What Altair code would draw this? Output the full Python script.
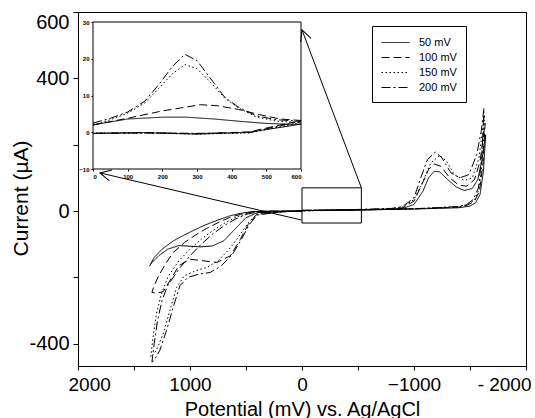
import math
import altair as alt
import pandas as pd

FONT = "Liberation Sans"
SERIES = ["50 mV", "100 mV", "150 mV", "200 mV"]
DASHES = [[1, 0], [8, 4], [1.5, 2.5], [9, 3, 2, 3]]

# ---------------- main cyclic voltammograms: potential (mV), current (uA)
E_50 = [0, -300, -600, -800, -900, -1000, -1080, -1130, -1180, -1230, -1300, -1380, -1450, -1520, -1570, -1610, -1640,
        -1620, -1590, -1550, -1500, -1400, -1200, -1000, -800, -500, -200, 0,
        200, 400, 500, 600, 700, 800, 900, 1000, 1100, 1200, 1280, 1340, 1360,
        1320, 1250, 1150, 1050, 950, 850, 750, 650, 550, 450, 300, 0]
I_50 = [2, 3, 4, 5, 8, 20, 60, 100, 120, 118, 95, 72, 62, 68, 95, 160, 230,
        120, 50, 25, 15, 10, 8, 6, 5, 3, 2, 1,
        -2, -5, -20, -55, -90, -105, -108, -106, -104, -115, -135, -155, -165,
        -140, -115, -90, -72, -55, -40, -27, -15, -7, -2, 0, 0]

E_100 = [0, -300, -600, -800, -900, -1000, -1070, -1130, -1180, -1240, -1320, -1400, -1470, -1540, -1590, -1635,
         -1615, -1585, -1540, -1480, -1400, -1200, -1000, -700, -400, 0,
         200, 400, 480, 550, 640, 760, 880, 1000, 1100, 1180, 1240, 1300, 1340,
         1320, 1280, 1220, 1150, 1050, 950, 850, 750, 650, 550, 450, 300, 0]
I_100 = [2, 3, 5, 6, 10, 30, 80, 125, 142, 135, 100, 78, 75, 95, 150, 265,
         140, 60, 30, 18, 12, 9, 7, 5, 3, 1,
         -2, -8, -40, -85, -135, -155, -150, -145, -165, -210, -243, -248, -245,
         -225, -195, -160, -125, -95, -72, -52, -35, -20, -10, -3, 0, 0]

E_150 = [0, -300, -600, -800, -900, -1000, -1080, -1150, -1230, -1290, -1360, -1450, -1520, -1580, -1630,
         -1610, -1580, -1540, -1480, -1400, -1200, -1000, -700, -400, 0,
         200, 400, 480, 560, 650, 750, 850, 950, 1050, 1120, 1180, 1240, 1300, 1350,
         1330, 1300, 1260, 1200, 1100, 1000, 900, 800, 700, 600, 500, 400, 0]
I_150 = [2, 3, 5, 7, 12, 35, 90, 145, 168, 150, 110, 92, 100, 160, 290,
         150, 65, 33, 20, 13, 10, 7, 5, 3, 1,
         -3, -10, -35, -75, -115, -150, -170, -180, -195, -230, -300, -370, -420, -440,
         -380, -310, -255, -200, -150, -115, -85, -60, -38, -20, -8, -2, 0]

E_200 = [0, -300, -600, -800, -900, -1000, -1060, -1120, -1190, -1250, -1330, -1410, -1490, -1560, -1600, -1625,
         -1605, -1575, -1530, -1470, -1400, -1200, -1000, -700, -400, 0,
         200, 400, 470, 540, 620, 720, 820, 920, 1020, 1090, 1150, 1210, 1270, 1320, 1340,
         1320, 1290, 1250, 1200, 1100, 1000, 900, 800, 700, 600, 500, 400, 0]
I_200 = [2, 3, 6, 8, 14, 40, 100, 155, 178, 160, 115, 100, 110, 170, 240, 310,
         160, 70, 35, 20, 14, 10, 7, 5, 3, 1,
         -3, -12, -40, -85, -130, -165, -185, -190, -200, -225, -290, -360, -420, -450, -455,
         -400, -330, -270, -225, -175, -135, -100, -70, -45, -25, -10, -3, 0]

# ---------------- inset (0-600 mV window)
IE_200 = [0, 50, 100, 150, 190, 230, 265, 300, 340, 380, 420, 470, 530, 600, 450, 300, 150, 0]
II_200 = [2.5, 3.8, 5.5, 8.5, 13, 18, 21.2, 19.5, 14.5, 9.5, 6.8, 4.5, 3.4, 3.0, -0.1, -0.3, -0.2, -0.3]
IE_150 = [0, 50, 100, 150, 190, 230, 265, 300, 340, 380, 420, 470, 530, 600, 450, 300, 150, 0]
II_150 = [2, 3.4, 5.2, 8, 12, 16, 18.4, 17.3, 13.5, 9.3, 6.6, 4.2, 3.0, 2.6, -0.2, -0.5, -0.2, -0.2]
IE_100 = [0, 100, 200, 265, 310, 360, 420, 480, 540, 600, 450, 300, 150, 0]
II_100 = [2, 3.8, 5.8, 6.8, 7.5, 7.2, 6.2, 4.8, 3.6, 3.2, 0.1, -0.4, -0.1, -0.3]
IE_50 = [0, 100, 200, 270, 350, 420, 500, 560, 600, 450, 300, 150, 0]
II_50 = [2, 3.6, 4.1, 4.1, 3.6, 3.0, 2.4, 2.2, 2.2, 0.0, -0.5, -0.1, -0.3]

# ---------------- axes / layout
X_DOMAIN = [2000, -2000]
Y_DOMAIN = [-467, 600]
X_TICKS = [2000, 1500, 1000, 500, 0, -500, -1000, -1500, -2000]
Y_TICKS = [-400, -200, 0, 200, 400, 600]
INSET_X_DOMAIN = [0, 600]
INSET_Y_DOMAIN = [-10, 30]
INSET_X_TICKS = [0, 100, 200, 300, 400, 500, 600]
INSET_Y_TICKS = [-10, 0, 10, 20, 30]

# zoom box and arrows (main data units)
BOX_E = [0, -530]
BOX_I = [-36, 70]
ARROW_TAIL_E = [-530, 5]
ARROW_TAIL_I = [70, -27]
ARROW_HEAD_E = [0, 1804]
ARROW_HEAD_I = [546, 115]

W, H = 448, 354
INSET_PX = [15, 223]
INSET_PY = [157, 10]


def frame(names, es, is_):
    rows = []
    for name, e, i in zip(names, es, is_):
        for k, (a, b) in enumerate(zip(e, i)):
            rows.append({"series": name, "E": a, "I": b, "k": k})
    return pd.DataFrame(rows)


main_df = frame(SERIES, [E_50, E_100, E_150, E_200], [I_50, I_100, I_150, I_200])
inset_df = frame(SERIES, [IE_50, IE_100, IE_150, IE_200], [II_50, II_100, II_150, II_200])

dash = alt.StrokeDash(
    "series:N",
    scale=alt.Scale(domain=SERIES, range=DASHES),
    legend=alt.Legend(
        title=None, orient="none", legendX=294, legendY=14,
        symbolType="M-1,0L3,0", symbolSize=196, symbolStrokeColor="black",
        symbolStrokeWidth=1, labelFontSize=11, labelFont=FONT, labelColor="black",
        strokeColor="black", fillColor="white", padding=9, labelOffset=23,
        rowPadding=2,
    ),
)

xs = alt.Scale(domain=X_DOMAIN, nice=False, zero=False)
ys = alt.Scale(domain=Y_DOMAIN, nice=False, zero=False)

x_axis = alt.Axis(
    values=X_TICKS, title="Potential (mV) vs. Ag/AgCl",
    labelExpr="datum.value == -2000 ? '- 2000' : datum.value == -1000 ? '\u22121000' : (datum.value % 1000 == 0 ? '' + datum.value : '')",
    labelFontSize=19, tickSize=4, labelPadding=5, labelFlush=True,
    labelOffset={"condition": [{"test": "datum.value == 2000", "value": -10},
                               {"test": "datum.value == -2000", "value": 5}], "value": 0},
    titleFontSize=20, titleFontWeight="normal", titleBaseline="alphabetic", titleY=49,
)
y_axis = alt.Axis(
    values=Y_TICKS, title="Current (\u00b5A)",
    labelExpr="datum.value == 200 || datum.value == -200 ? '' : '' + datum.value",
    labelFontSize=20, tickSize=5, labelPadding=4, labelFlush=True, labelFlushOffset=0,
    titleFontSize=21, titleFontWeight="normal", titleAngle=-90,
    titleBaseline="alphabetic", titleX=-51, titleY=186, titleAlign="center",
)

curves = alt.Chart(main_df).mark_line(color="black", strokeWidth=1).encode(
    x=alt.X("E:Q", scale=xs, axis=x_axis),
    y=alt.Y("I:Q", scale=ys, axis=y_axis),
    strokeDash=dash,
    detail="series:N",
    order="k:Q",
)

# ---------------- inset
ixs = alt.Scale(domain=INSET_X_DOMAIN, range=INSET_PX, nice=False, zero=False)
iys = alt.Scale(domain=INSET_Y_DOMAIN, range=INSET_PY, nice=False, zero=False)
inset_bg_df = pd.DataFrame({"x0": [INSET_X_DOMAIN[0]], "x1": [INSET_X_DOMAIN[1]],
                            "y0": [INSET_Y_DOMAIN[0]], "y1": [INSET_Y_DOMAIN[1]]})
inset_bg = alt.Chart(inset_bg_df).mark_rect(fill="white", stroke="black", strokeWidth=1).encode(
    x=alt.X("x0:Q", scale=ixs, axis=alt.Axis(
        orient="bottom", offset=-(H - INSET_PY[0]), values=INSET_X_TICKS, title=None,
        labelFontSize=6, labelFontWeight="bold", tickSize=2, labelPadding=2, domain=False)),
    x2="x1:Q",
    y=alt.Y("y0:Q", scale=iys, axis=alt.Axis(
        orient="left", offset=-INSET_PX[0], values=INSET_Y_TICKS, title=None,
        labelFontSize=6, labelFontWeight="bold", tickSize=2, labelPadding=2, domain=False)),
    y2="y1:Q",
)
inset_lines = alt.Chart(inset_df).mark_line(color="black", strokeWidth=1).encode(
    x=alt.X("E:Q", scale=ixs),
    y=alt.Y("I:Q", scale=iys),
    strokeDash=alt.StrokeDash("series:N", scale=alt.Scale(domain=SERIES, range=DASHES), legend=None),
    detail="series:N",
    order="k:Q",
)
inset = alt.layer(inset_bg, inset_lines)

# ---------------- annotations (zoom box + arrows)
box_df = pd.DataFrame({"e0": [BOX_E[0]], "e1": [BOX_E[1]], "i0": [BOX_I[0]], "i1": [BOX_I[1]]})
box = alt.Chart(box_df).mark_rect(fill=None, stroke="black", strokeWidth=1).encode(
    x=alt.X("e0:Q", scale=xs, axis=None), x2="e1:Q",
    y=alt.Y("i0:Q", scale=ys, axis=None), y2="i1:Q",
)

sx = W / (X_DOMAIN[1] - X_DOMAIN[0])
sy = -H / (Y_DOMAIN[1] - Y_DOMAIN[0])
arrow_rows = []
for te, ti, he, hi in zip(ARROW_TAIL_E, ARROW_TAIL_I, ARROW_HEAD_E, ARROW_HEAD_I):
    ang = math.degrees(math.atan2((hi - ti) * sy, (he - te) * sx)) % 360
    arrow_rows.append({"te": te, "ti": ti, "he": he, "hi": hi, "ang": ang})
arrow_df = pd.DataFrame(arrow_rows)

shafts = alt.Chart(arrow_df).mark_rule(color="black", strokeWidth=1).encode(
    x=alt.X("te:Q", scale=xs, axis=None), x2="he:Q",
    y=alt.Y("ti:Q", scale=ys, axis=None), y2="hi:Q",
)
heads = alt.Chart(arrow_df).mark_point(
    shape="M-1,-0.5L0,0L-1,0.5", filled=False, color="black", strokeWidth=1, size=484, opacity=1,
).encode(
    x=alt.X("he:Q", scale=xs, axis=None),
    y=alt.Y("hi:Q", scale=ys, axis=None),
    angle=alt.Angle("ang:Q", scale=None),
)
annotations = alt.layer(box, shafts, heads)

chart = alt.layer(curves, inset, annotations).resolve_scale(
    x="independent", y="independent", strokeDash="shared"
).properties(
    width=W, height=H,
    autosize=alt.AutoSizeParams(type="none"),
    padding={"left": 78, "top": 12, "right": 9, "bottom": 52},
    background="white",
).configure_view(
    stroke="black", strokeWidth=1
).configure_axis(
    grid=False, domainColor="black", tickColor="black", labelColor="black", titleColor="black",
    labelFont=FONT, titleFont=FONT,
)

chart.save("out.html", embed_options={"renderer": "svg", "actions": False})
